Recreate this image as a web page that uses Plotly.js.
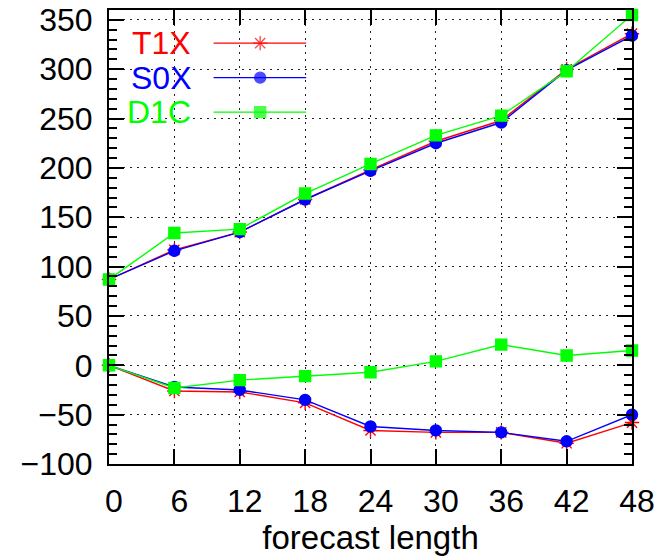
<!DOCTYPE html>
<html>
<head>
<meta charset="utf-8">
<script src="https://cdn.plot.ly/plotly-3.0.1.min.js"></script>
<style>
  html, body { margin: 0; padding: 0; background: #fff; }
  #chart { width: 656px; height: 556px; }
</style>
</head>
<body>
<div id="chart"></div>
<script>
// Forecast length (hours)
const hours = [0, 6, 12, 18, 24, 30, 36, 42, 48];

// Upper curves (growing error with lead time)
const t1xUpper = [87, 117, 135, 168, 198, 227, 248, 300, 336];
const s0xUpper = [87, 116, 135, 168, 197, 225, 246, 299, 334];
const d1cUpper = [87, 134, 138, 174, 204, 233, 253, 298, 355];

// Lower curves (mean difference)
const t1xLower = [0, -26, -27, -38, -66, -68, -68, -79, -58];
const s0xLower = [0, -22, -25, -35, -62, -66, -68, -77, -50];
const d1cLower = [0, -23, -15, -11, -7, 4, 21, 10, 15];

const yTicks = [-100, -50, 0, 50, 100, 150, 200, 250, 300, 350];
const xLabelText = 'forecast length';

const FONT = '"Liberation Sans", Arial, Helvetica, sans-serif';

const styles = [
  { name: 'T1X', color: 'rgb(255,0,0)', symbol: 'asterisk-open', size: 12, upper: t1xUpper, lower: t1xLower },
  { name: 'S0X', color: 'rgb(0,0,255)', symbol: 'circle', size: 11, upper: s0xUpper, lower: s0xLower },
  { name: 'D1C', color: 'rgb(0,255,0)', symbol: 'square', size: 11, upper: d1cUpper, lower: d1cLower }
];

const traces = [];
styles.forEach(s => {
  [s.upper, s.lower].forEach(vals => {
    traces.push({
      x: hours, y: vals, type: 'scatter', mode: 'lines+markers',
      name: s.name, showlegend: false, cliponaxis: false,
      line: { color: s.color, width: 1.4 },
      marker: { color: s.color, symbol: s.symbol, size: s.size,
                line: { color: s.color, width: 1.4 } },
      hoverinfo: 'skip'
    });
  });
});

// Key drawn inside the plot: coloured label, then a line sample with the marker
const keyRows = [0.927, 0.851, 0.775];
const keyLineX = [0.2, 0.289, 0.377];
const annotations = [];
styles.forEach((s, i) => {
  traces.push({
    x: keyLineX, y: [keyRows[i], keyRows[i], keyRows[i]],
    xaxis: 'x2', yaxis: 'y2', type: 'scatter', mode: 'lines+markers',
    showlegend: false, cliponaxis: false, hoverinfo: 'skip',
    line: { color: s.color, width: 1.4 },
    marker: { color: s.color, symbol: s.symbol, size: [0, s.size, 0],
              line: { color: s.color, width: 1.4 } }
  });
  annotations.push({
    xref: 'paper', yref: 'paper', x: 0.158, y: keyRows[i],
    xanchor: 'right', yanchor: 'middle', showarrow: false, borderpad: 0,
    text: s.name, font: { family: FONT, size: 32, color: s.color }
  });
});

const axisCommon = {
  showline: true, linecolor: '#000', linewidth: 2, mirror: 'allticks',
  ticks: 'inside', tickcolor: '#000', tickwidth: 2, ticklen: 15,
  showgrid: true, gridcolor: '#222', gridwidth: 1, griddash: '2px,5px',
  zeroline: false, fixedrange: true,
  tickfont: { family: FONT, size: 32, color: '#000' }
};

const layout = {
  width: 656, height: 556,
  margin: { l: 108.5, r: 24, t: 9.5, b: 92 },
  paper_bgcolor: '#fff', plot_bgcolor: '#fff',
  showlegend: false,
  font: { family: FONT, color: '#000' },
  xaxis: Object.assign({}, axisCommon, {
    range: [0, 48], tickvals: hours, ticktext: hours.map(String),
    ticklabelshift: 5, ticklabelstandoff: 8,
    title: { text: xLabelText, font: { family: FONT, size: 33, color: '#000' }, standoff: 0 }
  }),
  yaxis: Object.assign({}, axisCommon, {
    range: [-100, 360], tickvals: yTicks, ticktext: yTicks.map(v => v < 0 ? '\u2212' + Math.abs(v) : String(v)),
    ticklabelstandoff: 8,
    minor: { dtick: 10, ticks: 'inside', ticklen: 8, tickwidth: 2, tickcolor: '#000', showgrid: false }
  }),
  xaxis2: { overlaying: 'x', range: [0, 1], visible: false, fixedrange: true },
  yaxis2: { overlaying: 'y', range: [0, 1], visible: false, fixedrange: true },
  shapes: [{
    type: 'rect', xref: 'paper', yref: 'paper', x0: 0, x1: 0.417, y0: 0.739, y1: 1,
    fillcolor: '#fff', line: { width: 0 }, layer: 'between'
  }],
  annotations: annotations
};

Plotly.newPlot('chart', traces, layout, { staticPlot: true, displayModeBar: false });
</script>
</body>
</html>
